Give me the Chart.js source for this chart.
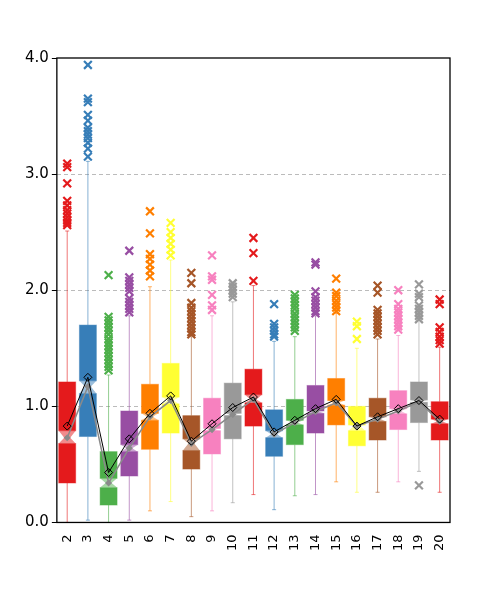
<!DOCTYPE html>
<html>
<head>
<meta charset="utf-8">
<script src="https://cdn.jsdelivr.net/npm/chart.js@4.4.1/dist/chart.umd.min.js"></script>
<style>
  html, body { margin: 0; padding: 0; background: #fff; }
</style>
</head>
<body>
<canvas id="chart" width="498" height="600"></canvas>
<script>
// categories on the x axis
const categories = ["2", "3", "4", "5", "6", "7", "8", "9", "10", "11",
                    "12", "13", "14", "15", "16", "17", "18", "19", "20"];

// box statistics
const q1        = [0.34, 0.74, 0.15, 0.40, 0.63, 0.77, 0.46, 0.59, 0.72, 0.83, 0.57, 0.67, 0.77, 0.84, 0.66, 0.71, 0.80, 0.86, 0.71];
const notchLo   = [0.68, 1.11, 0.30, 0.61, 0.88, 1.02, 0.62, 0.79, 0.92, 1.03, 0.73, 0.84, 0.94, 1.01, 0.79, 0.87, 0.935, 1.035, 0.85];
const medians   = [0.73, 1.17, 0.34, 0.64, 0.91, 1.05, 0.68, 0.80, 0.93, 1.06, 0.76, 0.86, 0.955, 1.03, 0.83, 0.89, 0.96, 1.04, 0.87];
const notchHi   = [0.79, 1.22, 0.38, 0.67, 0.94, 1.08, 0.72, 0.81, 0.94, 1.10, 0.79, 0.88, 0.96, 1.05, 0.84, 0.91, 0.98, 1.055, 0.89];
const q3        = [1.21, 1.70, 0.61, 0.96, 1.19, 1.37, 0.92, 1.07, 1.20, 1.32, 0.97, 1.06, 1.18, 1.24, 1.00, 1.07, 1.135, 1.21, 1.04];
const whiskerLo = [0.00, 0.02, 0.00, 0.02, 0.10, 0.18, 0.05, 0.10, 0.17, 0.24, 0.11, 0.23, 0.24, 0.35, 0.26, 0.26, 0.35, 0.44, 0.26];
const whiskerHi = [2.51, 3.11, 1.27, 1.78, 2.03, 2.26, 1.60, 1.78, 1.90, 2.04, 1.56, 1.60, 1.78, 1.80, 1.50, 1.58, 1.61, 1.74, 1.51];
const means     = [0.83, 1.25, 0.43, 0.72, 0.94, 1.09, 0.70, 0.85, 0.99, 1.08, 0.78, 0.88, 0.98, 1.06, 0.83, 0.91, 0.98, 1.05, 0.89];

// outliers per category
const outliers = [
  [3.09, 3.06, 2.92, 2.77, 2.73, 2.69, 2.66, 2.63, 2.60, 2.58, 2.56],
  [3.94, 3.65, 3.62, 3.51, 3.46, 3.40, 3.37, 3.34, 3.31, 3.27, 3.22, 3.15],
  [2.13, 1.77, 1.74, 1.71, 1.68, 1.65, 1.62, 1.58, 1.55, 1.52, 1.49, 1.46, 1.43, 1.40, 1.37, 1.34, 1.31],
  [2.34, 2.11, 2.08, 2.05, 2.02, 1.99, 1.93, 1.90, 1.87, 1.84, 1.81],
  [2.68, 2.49, 2.31, 2.27, 2.22, 2.17, 2.12],
  [2.58, 2.50, 2.45, 2.40, 2.35, 2.30],
  [2.15, 2.06, 1.89, 1.85, 1.82, 1.79, 1.76, 1.73, 1.70, 1.67, 1.64, 1.62],
  [2.30, 2.12, 2.09, 1.96, 1.87, 1.83],
  [2.06, 2.03, 2.00, 1.97, 1.94],
  [2.45, 2.32, 2.08],
  [1.88, 1.71, 1.68, 1.65, 1.62, 1.60],
  [1.96, 1.93, 1.90, 1.87, 1.84, 1.80, 1.77, 1.74, 1.71, 1.68, 1.65],
  [2.24, 2.22, 1.99, 1.94, 1.91, 1.88, 1.85, 1.82, 1.80],
  [2.10, 1.98, 1.95, 1.91, 1.88, 1.85, 1.82],
  [1.73, 1.69, 1.58],
  [2.04, 1.98, 1.83, 1.80, 1.77, 1.74, 1.71, 1.68, 1.65, 1.62],
  [2.00, 1.88, 1.84, 1.81, 1.78, 1.75, 1.72, 1.69, 1.66],
  [2.05, 1.97, 1.94, 1.87, 1.84, 1.81, 1.78, 1.75, 0.32],
  [1.92, 1.88, 1.68, 1.64, 1.60, 1.57, 1.54],
];

const yTicks = [0, 1, 2, 3, 4];

const palette = ["#e41a1c", "#377eb8", "#4daf4a", "#984ea3", "#ff7f00",
                 "#ffff33", "#a65628", "#f781bf", "#999999"];

function rgba(hex, a) {
  const n = parseInt(hex.slice(1), 16);
  return `rgba(${(n >> 16) & 255},${(n >> 8) & 255},${n & 255},${a})`;
}

const colorOf = (i) => palette[i % palette.length];

// flatten outliers into points
const outlierPoints = [];
const outlierColors = [];
outliers.forEach((list, i) => {
  list.forEach((v) => {
    outlierPoints.push({ x: categories[i], y: v });
    outlierColors.push(colorOf(i));
  });
});

// notched boxes and whiskers, drawn through the chart's scales
const boxPlugin = {
  id: "notchedBoxes",
  beforeDatasetsDraw(chart) {
    const { ctx, scales: { x, y } } = chart;
    const step = x.getPixelForValue(1) - x.getPixelForValue(0);
    const half = step * 0.41;
    const pinch = half * 0.35;
    const cap = 2;
    ctx.save();
    categories.forEach((c, i) => {
      const cx = x.getPixelForValue(i);
      const col = colorOf(i);
      const yq3 = y.getPixelForValue(q3[i]);
      const yq1 = y.getPixelForValue(q1[i]);
      const yHi = y.getPixelForValue(notchHi[i]);
      const yLo = y.getPixelForValue(notchLo[i]);
      const yMed = y.getPixelForValue(medians[i]);
      const yWHi = y.getPixelForValue(whiskerHi[i]);
      const yWLo = y.getPixelForValue(whiskerLo[i]);

      // whiskers
      ctx.strokeStyle = rgba(col, 0.6);
      ctx.lineWidth = 1;
      ctx.beginPath();
      ctx.moveTo(cx, yq3); ctx.lineTo(cx, yWHi);
      ctx.moveTo(cx, yq1); ctx.lineTo(cx, yWLo);
      ctx.moveTo(cx - cap, yWHi); ctx.lineTo(cx + cap, yWHi);
      ctx.moveTo(cx - cap, yWLo); ctx.lineTo(cx + cap, yWLo);
      ctx.stroke();

      // box halves
      ctx.fillStyle = col;
      ctx.fillRect(cx - half, yq3, half * 2, yHi - yq3);
      ctx.fillRect(cx - half, yLo, half * 2, yq1 - yLo);
      ctx.strokeStyle = rgba(col, 0.45);
      ctx.strokeRect(cx - half, yq3, half * 2, yHi - yq3);
      ctx.strokeRect(cx - half, yLo, half * 2, yq1 - yLo);

      // notch
      ctx.fillStyle = rgba(col, 0.5);
      ctx.beginPath();
      ctx.moveTo(cx - half, yHi);
      ctx.lineTo(cx + half, yHi);
      ctx.lineTo(cx + pinch, yMed);
      ctx.lineTo(cx + half, yLo);
      ctx.lineTo(cx - half, yLo);
      ctx.lineTo(cx - pinch, yMed);
      ctx.closePath();
      ctx.fill();
    });
    ctx.restore();
  },
  afterDraw(chart) {
    const { ctx, chartArea: a } = chart;
    ctx.save();
    ctx.strokeStyle = "#000";
    ctx.lineWidth = 1.3;
    ctx.strokeRect(a.left, a.top, a.right - a.left, a.bottom - a.top);
    ctx.restore();
  },
};

Chart.defaults.font.family = "'DejaVu Sans', Verdana, sans-serif";
Chart.defaults.color = "#000";

new Chart("chart", {
  type: "line",
  data: {
    labels: categories,
    datasets: [
      {
        label: "mean",
        data: means,
        borderColor: "#000",
        borderWidth: 1,
        pointStyle: "rectRot",
        pointRadius: 4,
        pointBorderColor: "#000",
        pointBackgroundColor: "rgba(0,0,0,0)",
        pointBorderWidth: 1,
      },
      {
        label: "median",
        data: medians,
        borderColor: "#8a8a8a",
        borderWidth: 1.5,
        pointStyle: "rectRot",
        pointRadius: 2.5,
        pointBorderColor: "#8a8a8a",
        pointBackgroundColor: "#8a8a8a",
      },
      {
        label: "outliers",
        data: outlierPoints,
        showLine: false,
        pointStyle: "crossRot",
        pointRadius: 5.5,
        pointBorderWidth: 2.2,
        pointBorderColor: outlierColors,
      },
    ],
  },
  plugins: [boxPlugin],
  options: {
    responsive: false,
    animation: false,
    layout: {
      padding: { top: 58, right: 48, bottom: 45, left: 22 },
    },
    plugins: {
      legend: { display: false },
      tooltip: { enabled: false },
    },
    scales: {
      x: {
        type: "category",
        offset: true,
        grid: { display: false },
        border: { display: false },
        ticks: {
          minRotation: 90,
          maxRotation: 90,
          padding: 4,
          font: { size: 13 },
        },
      },
      y: {
        min: yTicks[0],
        max: yTicks[yTicks.length - 1],
        afterBuildTicks: (scale) => {
          scale.ticks = yTicks.map((v) => ({ value: v }));
        },
        grid: {
          color: (c) => (c.tick && (c.tick.value === 0 || c.tick.value === 4)) ? "rgba(0,0,0,0)" : "#bbbbbb",
          tickColor: "#000",
          tickLength: 5,
          lineWidth: 1,
        },
        border: { display: false, dash: [4, 3] },
        ticks: {
          padding: 3,
          font: { size: 15 },
          callback: (v) => Number(v).toFixed(1),
        },
      },
    },
  },
});
</script>
</body>
</html>
